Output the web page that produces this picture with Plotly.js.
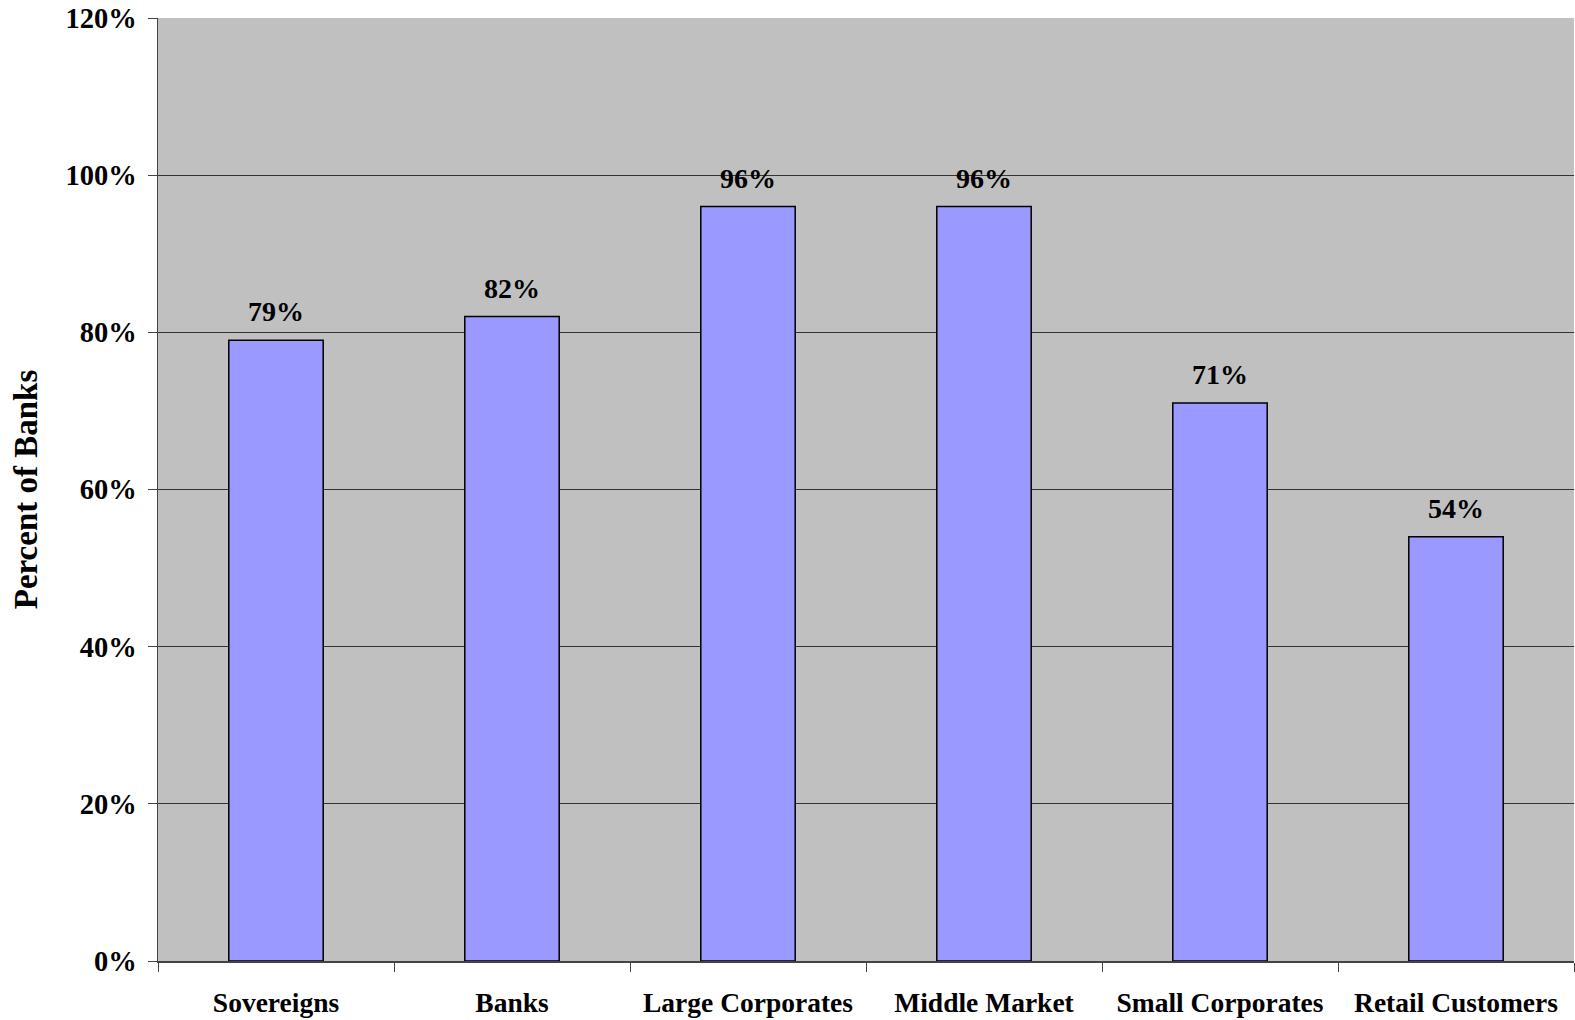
<!DOCTYPE html>
<html><head><meta charset="utf-8">
<script src="https://cdn.plot.ly/plotly-3.0.1.min.js"></script>
<style>html,body{margin:0;padding:0;background:#fff}</style>
</head><body>
<div id="chart" style="width:1575px;height:1020px"></div>
<script>
var categories = ["Sovereigns", "Banks", "Large Corporates", "Middle Market", "Small Corporates", "Retail Customers"];
var percentOfBanks = [79, 82, 96, 96, 71, 54];
var yTickValues = [0, 20, 40, 60, 80, 100, 120];
var yTickLabels = ["0%", "20%", "40%", "60%", "80%", "100%", "120%"];

var font = "Liberation Serif, Times New Roman, serif";

var trace = {
  type: "bar",
  x: categories,
  y: percentOfBanks,
  marker: {color: "#9999FF", line: {color: "#000000", width: 1.5}},
  hoverinfo: "skip"
};

var annotations = categories.map(function(c, i){
  return {
    x: c, y: percentOfBanks[i], xref: "x", yref: "y",
    text: "<b>" + percentOfBanks[i] + "%</b>",
    showarrow: false, yanchor: "bottom", yshift: 11,
    font: {family: font, size: 28, color: "#000"}
  };
});

var layout = {
  width: 1575, height: 1020,
  margin: {l: 158, r: 1, t: 18, b: 59},
  paper_bgcolor: "#ffffff",
  plot_bgcolor: "#C0C0C0",
  bargap: 0.6,
  showlegend: false,
  font: {family: font, color: "#000"},
  xaxis: {
    type: "category",
    tickson: "boundaries",
    ticks: "outside", ticklen: 9, tickcolor: "#444", tickwidth: 1,
    showline: true, linecolor: "#444", linewidth: 1.5,
    showgrid: false,
    tickfont: {family: font, size: 27.5, color: "#000", weight: "bold"},
    ticklabelstandoff: 16
  },
  yaxis: {
    range: [0, 120],
    tickvals: yTickValues, ticktext: yTickLabels,
    ticks: "outside", ticklen: 9, tickcolor: "#444", tickwidth: 1,
    showline: true, linecolor: "#444", linewidth: 1.5,
    showgrid: true, gridcolor: "#333", gridwidth: 1,
    zeroline: false,
    ticklabelstandoff: 5,
    tickfont: {family: font, size: 28.5, color: "#000", weight: "bold"},
    title: {text: "<b>Percent of Banks</b>", font: {family: font, size: 33, color: "#000"}, standoff: 18}
  },
  annotations: annotations
};

Plotly.newPlot("chart", [trace], layout, {displayModeBar: false, staticPlot: true});
</script>
</body></html>
